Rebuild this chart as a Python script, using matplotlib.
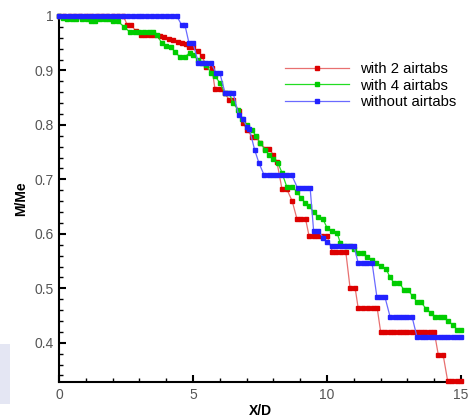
import matplotlib
matplotlib.use("Agg")
import matplotlib.pyplot as plt
from matplotlib.ticker import MultipleLocator
from matplotlib.patches import Rectangle

plt.rcParams['font.family'] = ['Liberation Sans', 'DejaVu Sans']

# without airtabs
x_blue = [0.0, 0.18, 0.36, 0.55, 0.73, 0.9, 1.1, 1.28, 1.46, 1.65, 1.83, 2.0, 2.2, 2.4,
          2.57, 2.75, 2.93, 3.1, 3.3, 3.48, 3.66, 3.85, 4.03, 4.2, 4.39,
          4.58, 4.7, 4.85, 5.0, 5.2, 5.35, 5.5, 5.67, 5.86, 6.0, 6.2, 6.35, 6.5,
          6.7, 6.87, 7.0, 7.1, 7.3, 7.46, 7.65, 7.82, 7.98, 8.15, 8.33, 8.5, 8.68,
          8.9, 9.05, 9.2, 9.37, 9.5, 9.67, 9.86, 10.0, 10.2, 10.35, 10.52, 10.68,
          10.85, 11.0, 11.16, 11.33, 11.5, 11.68, 11.86, 12.0, 12.16, 12.35, 12.52,
          12.68, 12.85, 13.0, 13.17, 13.36, 13.53, 13.7, 13.87, 14.03, 14.2, 14.37,
          14.53, 14.7, 14.85, 15.0]
y_blue = [1.0, 1.0, 1.0, 1.0, 1.0, 1.0, 1.0, 1.0, 1.0, 1.0, 1.0, 1.0, 1.0, 1.0,
          1.0, 1.0, 1.0, 1.0, 1.0, 1.0, 1.0, 1.0, 1.0, 1.0, 1.0,
          0.983, 0.983, 0.95, 0.95, 0.914, 0.914, 0.914, 0.914, 0.895, 0.895, 0.858, 0.858, 0.858,
          0.818, 0.81, 0.797, 0.793, 0.754, 0.73, 0.708, 0.708, 0.708, 0.708, 0.708, 0.708, 0.708,
          0.684, 0.684, 0.684, 0.684, 0.605, 0.605, 0.593, 0.585, 0.578, 0.578, 0.578, 0.578,
          0.578, 0.578, 0.547, 0.547, 0.547, 0.547, 0.484, 0.484, 0.484, 0.448, 0.448,
          0.448, 0.448, 0.448, 0.448, 0.41, 0.41, 0.41, 0.41, 0.41, 0.41, 0.41,
          0.41, 0.41, 0.41, 0.41]

# with 2 airtabs
x_red = [0.0, 0.2, 0.4, 0.6, 0.8, 1.0, 1.2, 1.4, 1.6, 1.8, 2.0, 2.2, 2.4,
         2.55, 2.7, 2.87, 3.05, 3.2, 3.38, 3.55, 3.77, 3.93, 4.1, 4.27, 4.43, 4.6,
         4.75, 4.85, 5.0, 5.17, 5.33, 5.5, 5.7, 5.82, 6.0, 6.18, 6.35, 6.5, 6.7,
         6.87, 7.03, 7.2, 7.35, 7.5, 7.7, 7.84, 8.0, 8.13, 8.32, 8.5, 8.7, 8.88,
         9.03, 9.2, 9.33, 9.5, 9.67, 9.83, 10.0, 10.2, 10.35, 10.52, 10.7, 10.86,
         11.05, 11.16, 11.35, 11.52, 11.7, 11.87, 12.0, 12.17, 12.34, 12.5, 12.67,
         12.84, 13.0, 13.17, 13.34, 13.5, 13.67, 13.84, 14.0, 14.15, 14.33, 14.5,
         14.67, 14.83, 15.0]
y_red = [1.0, 1.0, 1.0, 1.0, 1.0, 1.0, 1.0, 1.0, 1.0, 1.0, 1.0, 1.0, 1.0,
         0.983, 0.983, 0.972, 0.965, 0.965, 0.965, 0.965, 0.963, 0.961, 0.958, 0.956, 0.953, 0.95,
         0.948, 0.943, 0.943, 0.935, 0.927, 0.907, 0.905, 0.866, 0.866, 0.858, 0.846, 0.846, 0.826,
         0.804, 0.79, 0.778, 0.778, 0.767, 0.756, 0.756, 0.745, 0.732, 0.682, 0.682, 0.66, 0.627,
         0.627, 0.627, 0.596, 0.596, 0.596, 0.596, 0.596, 0.567, 0.567, 0.567, 0.567, 0.5,
         0.5, 0.464, 0.464, 0.464, 0.464, 0.464, 0.42, 0.42, 0.42, 0.42, 0.42,
         0.42, 0.42, 0.42, 0.42, 0.42, 0.42, 0.42, 0.42, 0.378, 0.378, 0.33,
         0.33, 0.33, 0.33]

# with 4 airtabs
x_green = [0.0, 0.15, 0.3, 0.48, 0.65, 0.85, 1.05, 1.2, 1.35, 1.53, 1.7, 1.87, 2.03,
           2.2, 2.43, 2.65, 2.82, 3.0, 3.17, 3.35, 3.5, 3.65, 3.84, 4.0, 4.17, 4.33,
           4.5, 4.7, 4.87, 5.0, 5.2, 5.35, 5.5, 5.67, 5.82, 6.0, 6.2, 6.35, 6.5, 6.67,
           6.83, 7.0, 7.2, 7.35, 7.5, 7.7, 7.84, 8.0, 8.17, 8.32, 8.5, 8.7, 8.88, 9.03,
           9.18, 9.33, 9.5, 9.67, 9.85, 10.0, 10.2, 10.37, 10.5, 10.7, 10.86, 11.0,
           11.16, 11.35, 11.5, 11.67, 11.83, 12.0, 12.2, 12.35, 12.5, 12.7, 12.87,
           13.02, 13.2, 13.36, 13.5, 13.7, 13.87, 14.03, 14.2, 14.37, 14.5, 14.7,
           14.85, 15.0]
y_green = [1.0, 0.997, 0.995, 0.995, 0.995, 0.995, 0.995, 0.99, 0.99, 0.995, 0.995, 0.995, 0.99,
           0.99, 0.98, 0.97, 0.97, 0.97, 0.97, 0.97, 0.97, 0.965, 0.95, 0.945, 0.943, 0.934,
           0.925, 0.925, 0.932, 0.928, 0.919, 0.914, 0.91, 0.895, 0.89, 0.877, 0.858, 0.858, 0.84, 0.828,
           0.81, 0.8, 0.79, 0.78, 0.767, 0.754, 0.745, 0.737, 0.73, 0.712, 0.686, 0.686, 0.677, 0.666,
           0.657, 0.651, 0.64, 0.631, 0.627, 0.611, 0.605, 0.602, 0.583, 0.578, 0.578, 0.572,
           0.565, 0.565, 0.558, 0.552, 0.547, 0.541, 0.536, 0.52, 0.51, 0.51, 0.497,
           0.497, 0.485, 0.475, 0.475, 0.462, 0.455, 0.448, 0.448, 0.448, 0.44, 0.433,
           0.424, 0.424]

fig = plt.figure(figsize=(4.7, 4.19), dpi=100, facecolor='white')
ax = fig.add_axes([0.1255, 0.0883, 0.8555, 0.8737])

ms = 2.2
ax.plot(x_red, y_red, '-s', color='#e87070', lw=0.9, ms=ms, mfc='#dd0000', mec='#dd0000',
        label='with 2 airtabs', clip_on=False, zorder=3)
ax.plot(x_green, y_green, '-s', color='#22dd22', lw=0.9, ms=ms, mfc='#00cc00', mec='#00cc00',
        label='with 4 airtabs', clip_on=False, zorder=3)
ax.plot(x_blue, y_blue, '-s', color='#6a6aff', lw=0.9, ms=ms, mfc='#2222ff', mec='#2222ff',
        label='without airtabs', clip_on=False, zorder=3)

ax.set_xlim(0, 15)
ax.set_ylim(0.328, 1.0)
ax.xaxis.set_major_locator(MultipleLocator(5))
ax.xaxis.set_minor_locator(MultipleLocator(1))
ax.yaxis.set_minor_locator(MultipleLocator(0.02))
ax.set_yticks([0.4, 0.5, 0.6, 0.7, 0.8, 0.9, 1.0])
ax.set_yticklabels(['0.4', '0.5', '0.6', '0.7', '0.8', '0.9', '1'])

for s in ['top', 'right']:
    ax.spines[s].set_visible(False)
for s in ['left', 'bottom']:
    ax.spines[s].set_linewidth(1.5)

ax.tick_params(which='major', direction='in', length=5, width=1.5, labelsize=10,
               labelcolor='#555555', pad=4)
ax.tick_params(which='minor', direction='in', length=3, width=1.0)

ax.set_xlabel('X/D', fontsize=10, fontweight='bold', labelpad=2)
ax.set_ylabel('M/Me', fontsize=10, fontweight='bold', labelpad=4)

ax.legend(loc='upper left', bbox_to_anchor=(0.606, 0.851), bbox_transform=fig.transFigure,
          frameon=False, fontsize=10.7, handlelength=4.3, handletextpad=0.75,
          labelspacing=0.15, borderpad=0, borderaxespad=0, numpoints=1, markerscale=1.0)

# faint smudge at the lower left edge
fig.patches.append(Rectangle((0.0, 0.035), 0.022, 0.145, transform=fig.transFigure,
                             facecolor='#d2d6ec', edgecolor='none', alpha=0.6))

fig.savefig('out.png', dpi=100, facecolor='white')
